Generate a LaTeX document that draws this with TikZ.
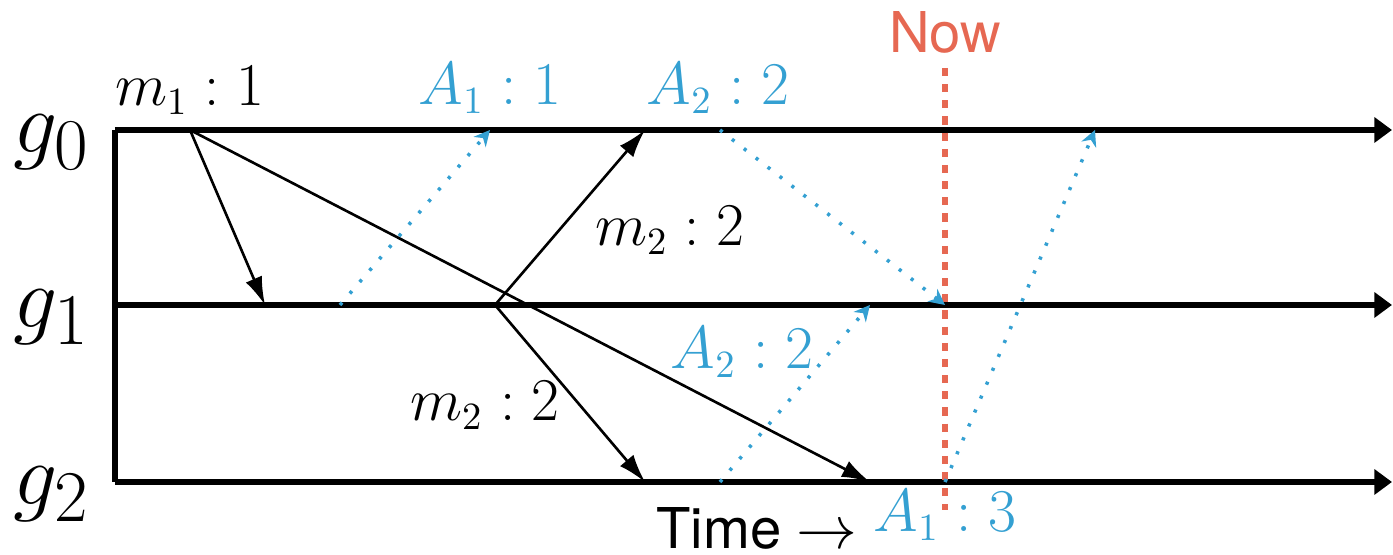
\documentclass[tikz,border=0pt]{standalone}
\usepackage{fontspec}
\setsansfont{TeX Gyre Heros}
\usepackage{tikz}
\usetikzlibrary{positioning,arrows.meta}
\definecolor{ack-blue}{RGB}{52,160,210}
\definecolor{now-red}{RGB}{230,104,82}

\begin{document}
\begin{tikzpicture}[
          timeline/.style={-{Triangle[length=5pt,width=7pt]}, line width=1.7pt},
          msg/.style={-{Latex[length=8pt,width=5pt]}, line width=0.75pt},
          ack/.style={-{Stealth[length=4.5pt,width=4.5pt]}, ack-blue, line width=1pt,
            dash pattern=on 0.9pt off 3.4pt},
          grp/.style={font=\fontsize{28}{32}\selectfont},
          lbl/.style={font=\fontsize{16}{19}\selectfont, inner sep=1pt},
          acklbl/.style={lbl, text=ack-blue}
        ]
        \useasboundingbox (0,0) rectangle (13.93,5.55);
        % process lines
        \coordinate (o0) at (1.15,4.25);
        \coordinate (o1) at (1.15,2.50);
        \coordinate (o2) at (1.15,0.73);
        \coordinate (e0) at (13.92,4.25);
        \coordinate (e1) at (13.92,2.50);
        \coordinate (e2) at (13.92,0.73);
        \node[grp] (g0) at (0.52,4.13) {$g_0$};
        \node[grp] (g1) at (0.52,2.38) {$g_1$};
        \node[grp] (g2) at (0.52,0.61) {$g_2$};
        \draw[line width=1.7pt] (o0) -- (o2);
        \draw[timeline] (o0) -- (e0);
        \draw[timeline] (o1) -- (e1);
        \draw[timeline] (o2) -- (e2);
        % events
        \coordinate (m1send) at (1.90,4.25);
        \coordinate (m1at1) at (2.65,2.50);
        \coordinate (m1at2) at (8.70,0.73);
        \coordinate (m2send) at (4.95,2.50);
        \coordinate (m2at0) at (6.45,4.25);
        \coordinate (m2at2) at (6.45,0.73);
        \coordinate (a1send) at (3.40,2.50);
        \coordinate (a1at0) at (4.90,4.25);
        \coordinate (a2send0) at (7.20,4.25);
        \coordinate (a2at1) at (9.45,2.50);
        \coordinate (a2send2) at (7.20,0.73);
        \coordinate (a2at1b) at (8.70,2.50);
        \coordinate (a3send) at (9.45,0.73);
        \coordinate (a3at0) at (10.95,4.25);
        % now marker
        \coordinate (nowtop) at (9.45,4.87);
        \coordinate (nowbot) at (9.45,0.45);
        \draw[now-red, line width=1.5pt, dash pattern=on 2.3pt off 2.3pt] (nowtop) -- (nowbot);
        \node[font=\sffamily\fontsize{16}{19}\selectfont, text=now-red, above=0.02cm of nowtop] (now) {Now};
        % messages
        \draw[msg] (m1send) -- (m1at1);
        \draw[msg] (m1send) -- (m1at2);
        \draw[msg] (m2send) -- (m2at0);
        \draw[msg] (m2send) -- (m2at2);
        % acks
        \draw[ack] (a1send) -- (a1at0);
        \draw[ack] (a2send0) -- (a2at1);
        \draw[ack] (a2send2) -- (a2at1b);
        \draw[ack] (a3send) -- (a3at0);
        % labels
        \node[lbl] (m1lbl) at (1.90,4.65) {$m_1:1$};
        \node[lbl] (m2lbla) at (6.70,3.25) {$m_2:2$};
        \node[lbl] (m2lblb) at (4.85,1.50) {$m_2:2$};
        \node[acklbl] (a1lbl) at (4.90,4.67) {$A_1:1$};
        \node[acklbl] (a2lbla) at (7.18,4.67) {$A_2:2$};
        \node[acklbl] (a2lblb) at (7.42,2.03) {$A_2:2$};
        \node[acklbl] (a3lbl) at (9.45,0.40) {$A_1:3$};
        \node[lbl, font=\sffamily\fontsize{16}{19}\selectfont] (time) at (7.57,0.27) {Time $\rightarrow$};
      \end{tikzpicture}
\end{document}
